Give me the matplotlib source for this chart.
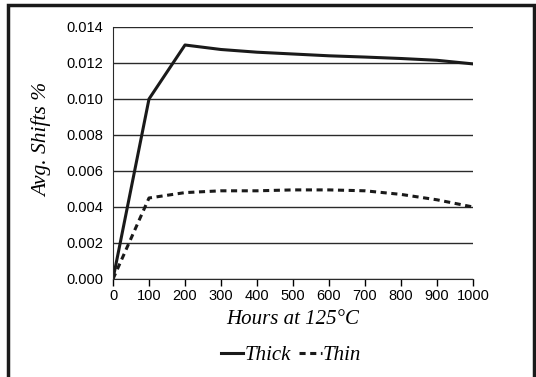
"""Avg. shifts vs. hours at 125C for thick and thin film."""

import matplotlib

matplotlib.use("Agg")
import matplotlib.pyplot as plt
from matplotlib.patches import Rectangle

hours = [0, 100, 200, 300, 400, 500, 600, 700, 800, 900, 1000]
thick = [0.0, 0.0100, 0.0130, 0.01275, 0.01260, 0.01250, 0.01240, 0.01233, 0.01225, 0.01215, 0.01195]
thin = [0.0, 0.0045, 0.0048, 0.0049, 0.0049, 0.00495, 0.00495, 0.0049, 0.0047, 0.0044, 0.0040]
y_ticks = [0.000, 0.002, 0.004, 0.006, 0.008, 0.010, 0.012, 0.014]

W, H = 536, 377
fig = plt.figure(figsize=(W / 100, H / 100), dpi=100)
ax = fig.add_axes([113 / W, 1 - 279 / H, (473 - 113) / W, (279 - 27) / H])

serif_it = dict(family="Liberation Serif", style="italic")

ax.plot(hours, thick, color="#1a1a1a", lw=2.2, label="Thick")
ax.plot(hours, thin, color="#1a1a1a", lw=2.2, ls=(0, (2.0, 1.5)), label="Thin")

ax.set_xlim(0, 1000)
ax.set_ylim(0, 0.014)
ax.set_xticks(hours)
ax.set_yticks(y_ticks)
ax.set_yticklabels([f"{v:.3f}" for v in y_ticks])
for v in y_ticks:
    ax.axhline(v, color="#2a2a2a", lw=1.0, zorder=0)

for s in ["top", "right"]:
    ax.spines[s].set_visible(False)
ax.spines["left"].set_color("#2a2a2a")
ax.spines["bottom"].set_color("#2a2a2a")
ax.tick_params(axis="x", direction="out", length=5, width=1, labelsize=10.5, pad=2)
ax.tick_params(axis="y", length=0, labelsize=10.5, pad=7)
for lab in ax.get_xticklabels() + ax.get_yticklabels():
    lab.set_family("Liberation Sans")

ax.set_xlabel("Hours at 125°C", fontsize=15, labelpad=5, **serif_it)
ax.set_ylabel("Avg. Shifts %", fontsize=15.5, **serif_it)
ax.yaxis.set_label_coords(-(113 - 52) / 360, (279 - 140) / 252)

leg = fig.legend(loc="center", bbox_to_anchor=(291 / W, 1 - 355 / H), ncol=2,
                 frameon=False, handlelength=1.1, handletextpad=0.05,
                 columnspacing=0.4, prop=dict(size=15, **serif_it))

fig.patches.append(Rectangle((8 / W, -0.1), (534 - 8) / W, 1.1 - 5 / H,
                             transform=fig.transFigure, fill=False,
                             edgecolor="#1a1a1a", lw=2.5))

fig.savefig("out.png", dpi=100)
